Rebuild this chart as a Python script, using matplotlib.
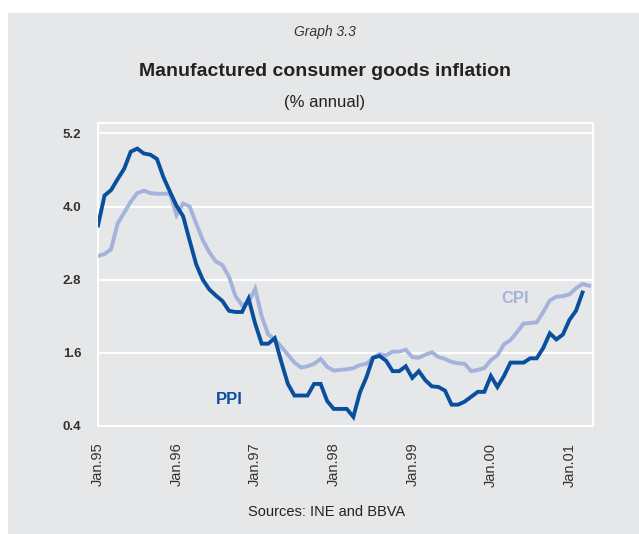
import matplotlib
matplotlib.use("Agg")
import matplotlib.pyplot as plt
from matplotlib.patches import Rectangle

# monthly year-on-year rates, Jan 1995 onwards
ppi = [3.69, 4.18, 4.27, 4.45, 4.62, 4.90, 4.95, 4.87, 4.85, 4.78,
       4.48, 4.24, 4.01, 3.84, 3.44, 3.05, 2.80, 2.64, 2.54, 2.45,
       2.29, 2.27, 2.27, 2.49, 2.08, 1.75, 1.75, 1.84, 1.45, 1.09,
       0.90, 0.90, 0.90, 1.09, 1.09, 0.81, 0.68, 0.68, 0.68, 0.55,
       0.95, 1.20, 1.52, 1.55, 1.47, 1.30, 1.30, 1.38, 1.19, 1.30,
       1.15, 1.05, 1.04, 0.98, 0.75, 0.75, 0.80, 0.88, 0.96, 0.96,
       1.22, 1.04, 1.22, 1.44, 1.44, 1.44, 1.51, 1.51, 1.68, 1.92,
       1.82, 1.90, 2.14, 2.29, 2.59]
cpi = [3.19, 3.22, 3.30, 3.72, 3.90, 4.08, 4.22, 4.26, 4.22, 4.21,
       4.21, 4.21, 3.86, 4.05, 4.00, 3.72, 3.45, 3.25, 3.10, 3.04,
       2.85, 2.53, 2.38, 2.43, 2.65, 2.20, 1.90, 1.82, 1.70, 1.57,
       1.44, 1.36, 1.38, 1.42, 1.50, 1.37, 1.31, 1.32, 1.33, 1.35,
       1.40, 1.42, 1.52, 1.58, 1.56, 1.62, 1.62, 1.65, 1.53, 1.52,
       1.57, 1.61, 1.53, 1.50, 1.45, 1.43, 1.42, 1.30, 1.32, 1.35,
       1.48, 1.56, 1.74, 1.81, 1.94, 2.08, 2.09, 2.10, 2.27, 2.46,
       2.52, 2.53, 2.56, 2.66, 2.73, 2.70]
year_labels = ["Jan.95", "Jan.96", "Jan.97", "Jan.98", "Jan.99", "Jan.00", "Jan.01"]
y_ticks = [0.4, 1.6, 2.8, 4.0, 5.2]

bg = "#e6e7e9"
dark_blue = "#0a4f9e"
light_blue = "#a4b2dc"
text_grey = "#333333"

plt.rcParams["font.family"] = ["Liberation Sans", "DejaVu Sans"]

W, H = 639, 534
fig = plt.figure(figsize=(W / 100, H / 100), dpi=100)
fig.patch.set_facecolor("white")
fig.patches.append(Rectangle((8 / W, 0), 1, 1 - 13 / H, transform=fig.transFigure,
                             facecolor=bg, edgecolor="none", zorder=-5))

def px(x, y):
    return x / W, 1 - y / H

left, right, top, bottom = 98, 593, 123, 426
ax = fig.add_axes([left / W, 1 - bottom / H, (right - left) / W, (bottom - top) / H])
ax.set_zorder(2)
ax.set_facecolor(bg)

ax.plot(range(len(cpi)), cpi, color=light_blue, lw=2.8, solid_joinstyle="miter", zorder=3)
ax.plot(range(len(ppi)), ppi, color=dark_blue, lw=2.8, solid_joinstyle="miter", zorder=4)

ax.set_xlim(0, 75.6)
ax.set_ylim(0.4, 5.37)
ax.set_xticks(range(0, 12 * len(year_labels), 12))
ax.set_xticklabels(year_labels, rotation=90, fontsize=10.5, color=text_grey)
ax.set_yticks(y_ticks)
ax.set_yticklabels([f"{v:.1f}" for v in y_ticks], fontsize=9.5, color=text_grey,
                   fontweight="bold")
ax.tick_params(axis="both", length=0)
ax.tick_params(axis="y", pad=12)
ax.tick_params(axis="x", pad=12)
ax.grid(axis="y", color="white", lw=1.5)
ax.set_axisbelow(True)
for s in ax.spines.values():
    s.set_color("white")
    s.set_linewidth(1.5)

ax.text(63.7, 2.49, "CPI", color=light_blue, fontsize=12, fontweight="bold",
        ha="center", va="center")
ax.text(20.1, 0.84, "PPI", color=dark_blue, fontsize=12, fontweight="bold",
        ha="center", va="center")

fig.text(*px(325, 32), "Graph 3.3", ha="center", va="center", fontsize=10,
         style="italic", color=text_grey)
fig.text(*px(325, 72), "Manufactured consumer goods inflation", ha="center",
         va="center", fontsize=14, fontweight="bold", color="#222222")
fig.text(*px(325, 102), "(% annual)", ha="center", va="center", fontsize=12,
         color="#222222")
fig.text(*px(327, 512), "Sources: INE and BBVA", ha="center", va="center",
         fontsize=10.5, color="#222222")

fig.savefig("out.png", dpi=100, facecolor=fig.get_facecolor())
